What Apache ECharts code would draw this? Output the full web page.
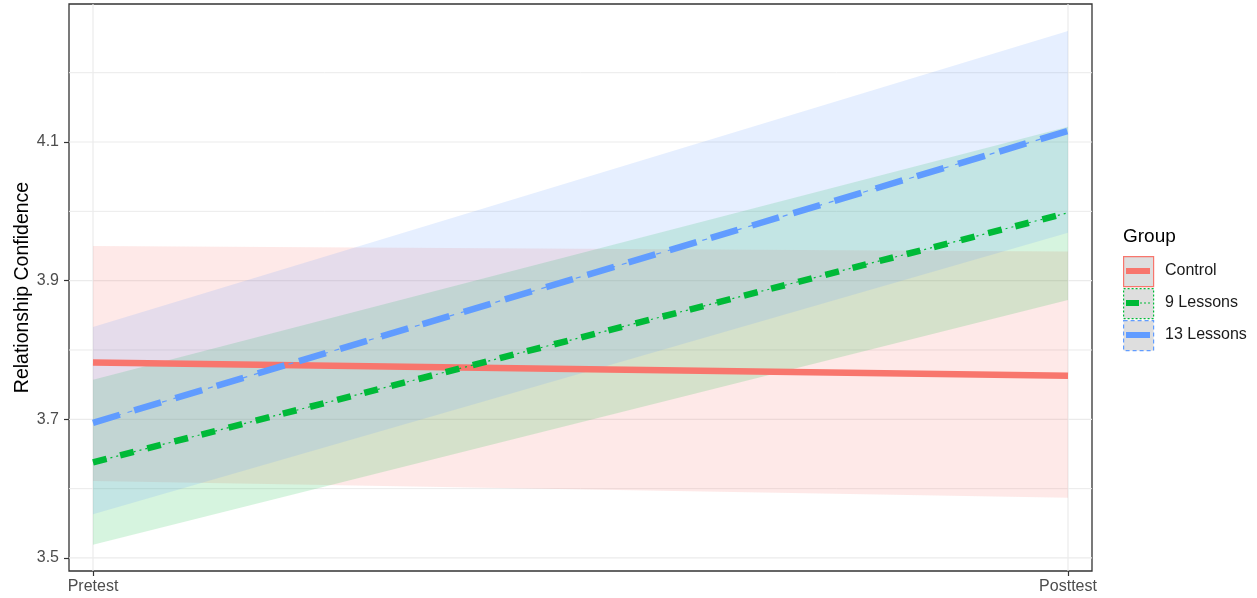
<!DOCTYPE html>
<html>
<head>
<meta charset="utf-8">
<script src="https://cdn.jsdelivr.net/npm/echarts@6/dist/echarts.min.js"></script>
<style>
  html, body { margin: 0; padding: 0; background: #fff; }
  #chart { width: 1257px; height: 598px; }
</style>
</head>
<body>
<div id="chart"></div>
<script>
// Time points on the x axis
const categories = ['Pretest', 'Posttest'];

// Group means with confidence band (lower / upper)
const controlMean  = [3.782, 3.763];
const controlLower = [3.611, 3.587];
const controlUpper = [3.950, 3.942];

const lessons9Mean  = [3.638, 3.998];
const lessons9Lower = [3.519, 3.872];
const lessons9Upper = [3.757, 4.122];

const lessons13Mean  = [3.695, 4.116];
const lessons13Lower = [3.563, 3.969];
const lessons13Upper = [3.833, 4.260];

// Axis ticks and grid
const yTicks = [3.5, 3.7, 3.9, 4.1];
const yMinorGrid = [3.6, 3.8, 4.0, 4.2];
const xTicks = [0, 1];

const groupNames = ['Control', '9 Lessons', '13 Lessons'];
const colors = ['#F8766D', '#00BA38', '#619CFF'];

const FONT = '"Liberation Sans", Arial, sans-serif';

function toPoints(values) {
  return values.map((v, i) => [i, v]);
}

// Shaded confidence band drawn as a polygon through the axis scales
function ribbon(name, lower, upper, color) {
  return {
    type: 'custom',
    name: name + ' band',
    silent: true,
    z: 2,
    data: lower.map((v, i) => [i, v, upper[i]]),
    encode: { x: 0, y: [1, 2] },
    renderItem: function (params, api) {
      if (params.dataIndex !== 0) return null;
      const top = upper.map((v, i) => api.coord([i, v]));
      const bottom = lower.map((v, i) => api.coord([i, v])).reverse();
      return {
        type: 'polygon',
        shape: { points: top.concat(bottom) },
        style: { fill: color, opacity: 0.16 }
      };
    }
  };
}

// Horizontal grid lines
function hGrid(values, width) {
  return {
    type: 'custom',
    silent: true,
    z: 1,
    data: values.map(v => [0, v]),
    encode: { x: 0, y: 1 },
    renderItem: function (params, api) {
      const cs = params.coordSys;
      const y = api.coord([0, api.value(1)])[1];
      return {
        type: 'line',
        shape: { x1: cs.x, y1: y, x2: cs.x + cs.width, y2: y },
        style: { stroke: '#ebebeb', lineWidth: width }
      };
    }
  };
}

// Vertical grid lines at the time points
function vGrid(values) {
  return {
    type: 'custom',
    silent: true,
    z: 1,
    data: values.map(v => [v, yTicks[0]]),
    encode: { x: 0, y: 1 },
    renderItem: function (params, api) {
      const cs = params.coordSys;
      const x = api.coord([api.value(0), yTicks[0]])[0];
      return {
        type: 'line',
        shape: { x1: x, y1: cs.y, x2: x, y2: cs.y + cs.height },
        style: { stroke: '#ebebeb', lineWidth: 1.2 }
      };
    }
  };
}

function meanLine(name, values, color, width, dash, z) {
  return {
    type: 'line',
    name: name,
    data: toPoints(values),
    showSymbol: false,
    silent: true,
    z: z,
    lineStyle: { color: color, width: width, type: dash, cap: 'butt' }
  };
}

const series = [
  hGrid(yMinorGrid, 1),
  hGrid(yTicks, 1.2),
  vGrid(xTicks),
  ribbon('Control', controlLower, controlUpper, colors[0]),
  ribbon('9 Lessons', lessons9Lower, lessons9Upper, colors[1]),
  ribbon('13 Lessons', lessons13Lower, lessons13Upper, colors[2]),
  meanLine('Control', controlMean, colors[0], 6.5, 'solid', 5),
  meanLine('9 Lessons', lessons9Mean, colors[1], 6.5, [14, 14], 6),
  meanLine('9 Lessons thin', lessons9Mean, colors[1], 1.2, [2, 4], 7),
  meanLine('13 Lessons', lessons13Mean, colors[2], 6.5, [28, 15], 8),
  meanLine('13 Lessons thin', lessons13Mean, colors[2], 1.2, [5, 7], 9)
];

// Legend keys (grey box with group-coloured outline and line sample)
const legendX = 1123;
const legendY = [256, 288, 320];
const keyDash = [null, [2, 2], [4, 3]];
const legendGraphics = [{
  type: 'text', left: legendX, top: 227,
  style: { text: 'Group', font: '19px ' + FONT, fill: '#000' }
}];
groupNames.forEach((name, i) => {
  const y = legendY[i];
  legendGraphics.push({
    type: 'rect', left: legendX, top: y,
    shape: { width: 30, height: 30 },
    style: { fill: '#dedede', stroke: colors[i], lineWidth: 1.2, lineDash: keyDash[i] }
  });
  if (i === 1) {
    legendGraphics.push({
      type: 'line', shape: { x1: legendX + 3, y1: y + 15, x2: legendX + 16, y2: y + 15 },
      style: { stroke: colors[i], lineWidth: 6 }
    });
    legendGraphics.push({
      type: 'line', shape: { x1: legendX + 17, y1: y + 15, x2: legendX + 28, y2: y + 15 },
      style: { stroke: colors[i], lineWidth: 1.2, lineDash: [2, 2] }
    });
  } else {
    legendGraphics.push({
      type: 'line', shape: { x1: legendX + 3, y1: y + 15, x2: legendX + 27, y2: y + 15 },
      style: { stroke: colors[i], lineWidth: 6 }
    });
  }
  legendGraphics.push({
    type: 'text', left: legendX + 42, top: y + 7,
    style: { text: name, font: '16px ' + FONT, fill: '#1a1a1a' }
  });
});

const chart = echarts.init(document.getElementById('chart'), null, { renderer: 'canvas' });
chart.setOption({
  animation: false,
  backgroundColor: '#ffffff',
  grid: {
    left: 69, right: 165, top: 4, bottom: 27,
    outerBoundsMode: 'none',
    containLabel: false,
    show: true, borderColor: '#333333', borderWidth: 1.3
  },
  xAxis: {
    type: 'value',
    min: -0.0246, max: 1.0246,
    axisLine: { show: false, onZero: false },
    splitLine: { show: false },
    axisTick: { show: true, customValues: xTicks, length: 5, lineStyle: { color: '#333333', width: 1.2 } },
    axisLabel: {
      customValues: xTicks,
      formatter: v => categories[Math.round(v)],
      color: '#4d4d4d', fontSize: 16, fontFamily: FONT, margin: 8
    }
  },
  yAxis: {
    type: 'value',
    min: 3.4812, max: 4.2991,
    axisLine: { show: false, onZero: false },
    splitLine: { show: false },
    axisTick: { show: true, customValues: yTicks, length: 5, lineStyle: { color: '#333333', width: 1.2 } },
    axisLabel: {
      customValues: yTicks,
      formatter: v => v.toFixed(1),
      color: '#4d4d4d', fontSize: 16, fontFamily: FONT, margin: 10
    },
    name: 'Relationship Confidence',
    nameLocation: 'middle',
    nameMoveOverlap: false,
    nameGap: 36,
    nameTextStyle: { fontSize: 19.5, color: '#000000', fontFamily: FONT }
  },
  graphic: legendGraphics,
  series: series
});
</script>
</body>
</html>
